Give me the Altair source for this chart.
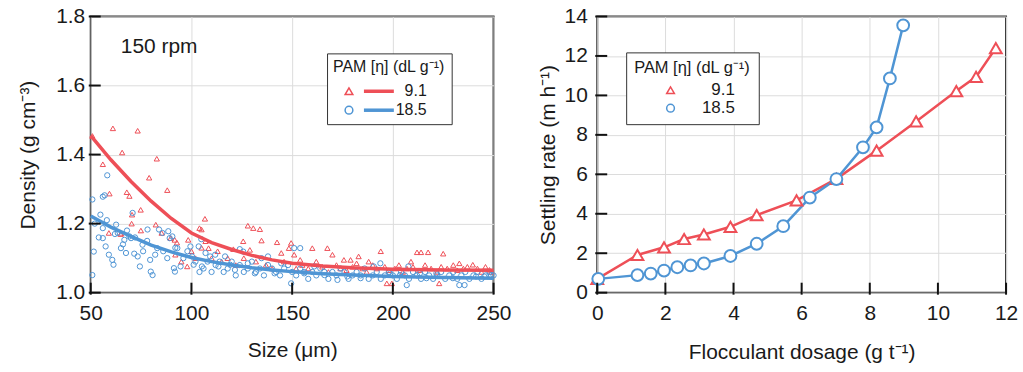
import altair as alt
import pandas as pd

RED = "#ee4f57"
BLUE = "#4f95d4"
SERIES = ["9.1", "18.5"]
FONT = "Liberation Sans"

# ---------------- left panel: density vs size (150 rpm) ----------------
red_x = [50.8, 56, 61, 65.6, 59.3, 67.9, 69.2, 73.3, 70.5, 70.3, 74.9, 79, 82.8, 88, 82.3, 65, 59,
         85.2, 89.7, 98.4, 104, 106.7, 105, 107, 108.5, 97.9, 120.8, 125.7, 128, 130.7, 134, 134.8,
         129, 142.5, 144.6, 148.4, 149.5, 151, 154, 160, 167.5, 170, 175.7, 179, 183, 188, 194, 197,
         199.5, 209, 212, 214, 217.5, 225, 233, 239.7, 248, 223, 92.8, 91.7, 74.8, 64.8,
         155, 158, 162, 165, 168, 172, 174, 177, 180, 182, 185, 187, 190, 192, 196, 198, 201, 203,
         205, 207, 210, 213, 216, 219, 222, 224, 227, 230, 232, 235, 237, 242, 244, 246, 249,
         110, 113, 115, 118, 122, 126, 132, 137, 140, 146, 152, 100, 102, 105, 95, 92]
red_y = [1.454, 1.372, 1.476, 1.406, 1.287, 1.291, 1.28, 1.469, 1.226, 1.20, 1.18, 1.333, 1.388,
         1.297, 1.197, 1.171, 1.173, 1.173, 1.158, 1.153, 1.187, 1.214, 1.183, 1.149, 1.129, 1.076,
         1.126, 1.149, 1.194, 1.187, 1.184, 1.151, 1.124, 1.146, 1.115, 1.129, 1.144, 1.11, 1.095,
         1.129, 1.129, 1.11, 1.095, 1.095, 1.105, 1.09, 1.12, 1.027, 1.027, 1.09, 1.117, 1.117,
         1.117, 1.113, 1.085, 1.081, 1.066, 1.027, 1.145, 1.153, 1.24, 1.17,
         1.08, 1.07, 1.09, 1.075, 1.06, 1.08, 1.07, 1.065, 1.075, 1.085, 1.07, 1.06, 1.08, 1.07,
         1.075, 1.065, 1.07, 1.08, 1.06, 1.07, 1.075, 1.065, 1.08, 1.07, 1.06, 1.075, 1.07, 1.08,
         1.065, 1.07, 1.075, 1.07, 1.06, 1.075, 1.06,
         1.10, 1.12, 1.09, 1.10, 1.08, 1.10, 1.09, 1.08, 1.07, 1.09, 1.07, 1.12, 1.10, 1.13, 1.09, 1.11]

blue_x = [50.8, 50.8, 51.5, 54.8, 56, 56, 58.2, 56, 56.9, 59, 57.4, 60.7, 61.3, 62.6, 63.4, 65, 66.7,
          67.5, 69.2, 70, 70.8, 71.6, 73.3, 74.4, 75.7, 78.2, 79.5, 79.8, 80.7, 83, 83.9, 85.6, 88.5,
          89.2, 90.5, 91.3, 91.8, 93, 94.6, 99.5, 100.3, 101.1, 103.6, 104.9, 105.2, 107, 109.3,
          111.8, 113.4, 116.7, 119.2, 121.6, 124, 125.7, 128, 131.5, 134.8, 138, 141.3, 144.6, 149.5,
          151, 154, 156, 161, 166, 172.5, 177.4, 184, 190.5, 193.8, 198.7, 203.6, 207.7, 206.9, 213.4,
          216.7, 221.6, 229.8, 233, 235.6, 241.3, 245.4, 248.7,
          102, 104, 106, 108, 110, 112, 114, 116, 118, 120, 122, 124, 126, 128, 130, 132, 134, 136,
          138, 140, 142, 144, 146, 148, 150, 152, 154, 156, 158, 160, 162, 164, 166, 168, 170, 172,
          174, 176, 178, 180, 182, 184, 186, 188, 190, 192, 194, 196, 198, 200, 202, 204, 206, 208,
          210, 212, 214, 216, 218, 220, 222, 224, 226, 228, 230, 232, 234, 236, 238, 240, 242, 244,
          246, 248, 250, 52, 54, 58, 62, 66, 68, 72, 76, 78, 82, 86, 88, 92, 96, 98]
blue_y = [1.27, 1.051, 1.119, 1.226, 1.187, 1.158, 1.34, 1.278, 1.282, 1.11, 1.134, 1.095, 1.081,
          1.197, 1.173, 1.129, 1.153, 1.115, 1.163, 1.158, 1.231, 1.113, 1.105, 1.076, 1.139, 1.183,
          1.095, 1.061, 1.051, 1.129, 1.183, 1.173, 1.178, 1.158, 1.163, 1.071, 1.061, 1.129, 1.076,
          1.134, 1.105, 1.081, 1.134, 1.155, 1.076, 1.115, 1.105, 1.11, 1.076, 1.105, 1.081, 1.066,
          1.126, 1.119, 1.085, 1.056, 1.1, 1.105, 1.056, 1.085, 1.027, 1.129, 1.129, 1.056, 1.076,
          1.051, 1.037, 1.047, 1.042, 1.076, 1.085, 1.056, 1.051, 1.076, 1.022, 1.056, 1.042, 1.056,
          1.042, 1.022, 1.022, 1.047, 1.047, 1.051,
          1.09, 1.06, 1.07, 1.09, 1.06, 1.08, 1.09, 1.06, 1.07, 1.09, 1.05, 1.08, 1.06, 1.07, 1.09,
          1.06, 1.07, 1.05, 1.08, 1.07, 1.06, 1.05, 1.07, 1.08, 1.06, 1.05, 1.07, 1.06, 1.04, 1.06,
          1.05, 1.07, 1.06, 1.04, 1.06, 1.05, 1.07, 1.06, 1.04, 1.05, 1.06, 1.05, 1.07, 1.04, 1.05,
          1.06, 1.04, 1.05, 1.06, 1.05, 1.04, 1.06, 1.05, 1.04, 1.06, 1.05, 1.04, 1.06, 1.05, 1.04,
          1.05, 1.06, 1.04, 1.05, 1.06, 1.04, 1.05, 1.06, 1.04, 1.05, 1.06, 1.04, 1.05, 1.06, 1.05,
          1.20, 1.16, 1.21, 1.17, 1.14, 1.18, 1.16, 1.12, 1.15, 1.11, 1.12, 1.10, 1.13, 1.10, 1.12]

fit_x = [50, 60, 70, 80, 90, 100, 110, 120, 130, 140, 150, 165, 180, 200, 225, 250]
fit_red = [1.455, 1.385, 1.322, 1.265, 1.215, 1.173, 1.145, 1.125, 1.108, 1.095, 1.085, 1.077,
           1.072, 1.068, 1.066, 1.065]
fit_blue = [1.222, 1.19, 1.163, 1.138, 1.118, 1.102, 1.09, 1.08, 1.072, 1.066, 1.061, 1.055,
            1.051, 1.047, 1.044, 1.042]

# ---------------- right panel: settling rate vs dosage ----------------
dose_red = [0, 1.18, 1.96, 2.55, 3.13, 3.91, 4.68, 5.85, 7.02, 8.2, 9.36, 10.54, 11.12, 11.7]
rate_red = [0.7, 1.91, 2.3, 2.72, 2.95, 3.34, 3.93, 4.68, 5.77, 7.2, 8.68, 10.22, 10.94, 12.4]
dose_blue = [0.03, 1.18, 1.57, 1.96, 2.35, 2.74, 3.13, 3.91, 4.68, 5.46, 6.24, 7.02, 7.8, 8.2,
             8.59, 8.98]
rate_blue = [0.7, 0.89, 0.97, 1.12, 1.29, 1.38, 1.48, 1.86, 2.48, 3.37, 4.82, 5.76, 7.37, 8.38,
             10.86, 13.55]

# tick values
size_ticks = [50, 100, 150, 200, 250]
density_ticks = [1.0, 1.2, 1.4, 1.6, 1.8]
dose_ticks = [0, 2, 4, 6, 8, 10, 12]
rate_ticks = [0, 2, 4, 6, 8, 10, 12, 14]

W_L, W_R, H = 404, 410, 277

left_pts = pd.concat([
    pd.DataFrame({"size": red_x, "density": red_y, "PAM": "9.1", "order": 0}),
    pd.DataFrame({"size": blue_x, "density": blue_y, "PAM": "18.5", "order": 1}),
])
left_fit = pd.concat([
    pd.DataFrame({"size": fit_x, "density": fit_red, "PAM": "9.1"}),
    pd.DataFrame({"size": fit_x, "density": fit_blue, "PAM": "18.5"}),
])
red_df = pd.DataFrame({"dose": dose_red, "rate": rate_red, "PAM": "9.1"})
blue_df = pd.DataFrame({"dose": dose_blue, "rate": rate_blue, "PAM": "18.5"})
right_df = pd.concat([red_df, blue_df])
note_df = pd.DataFrame({"size": [64.9], "density": [1.713], "text": ["150 rpm"]})

LEG_TITLE = "PAM [η] (dL g⁻¹)"


def cscale():
    return alt.Scale(domain=SERIES, range=[RED, BLUE])


def sscale():
    return alt.Scale(domain=SERIES, range=["triangle-up", "circle"])


def axis(title, values, fmt=None, label_pad=8, title_pad=8):
    kw = dict(title=title, values=values, ticks=False, domain=False, grid=True,
              gridColor="#dcdcdc", gridWidth=1,
              labelFont=FONT, labelFontSize=21, labelColor="#1a1a1a", labelPadding=label_pad,
              titleFont=FONT, titleFontSize=21, titleFontWeight="normal", titleColor="#1a1a1a",
              titlePadding=title_pad, labelFlush=False)
    if fmt:
        kw["format"] = fmt
    return alt.Axis(**kw)


def tick_layers(xenc, xvals, yenc, yvals):
    # short inward tick marks along the bottom and left frame edges
    xt = alt.Chart(pd.DataFrame({xenc.shorthand.split(":")[0]: xvals})).mark_tick(
        color="#111", thickness=2, size=12, orient="vertical", opacity=1).encode(
        x=xenc, y=alt.value(H - 4))
    yt = alt.Chart(pd.DataFrame({yenc.shorthand.split(":")[0]: yvals})).mark_tick(
        color="#111", thickness=2, size=12, orient="horizontal", opacity=1).encode(
        y=yenc, x=alt.value(4))
    return xt, yt


sx_l = alt.Scale(domain=[50, 250], nice=False)
sy_l = alt.Scale(domain=[1.0, 1.8], nice=False)
xl = alt.X("size:Q", scale=sx_l, axis=axis("Size (μm)", size_ticks, label_pad=10, title_pad=16))
yl = alt.Y("density:Q", scale=sy_l,
           axis=axis("Density (g cm⁻³)", density_ticks, ".1f", label_pad=6, title_pad=17))

pts_left = alt.Chart(left_pts).mark_point(filled=False, size=28, strokeWidth=1, opacity=1).encode(
    x=xl, y=yl,
    color=alt.Color("PAM:N", scale=cscale(), legend=alt.Legend(
        title=LEG_TITLE, orient="none", legendX=237, legendY=37, strokeColor="#333",
        padding=6, fillColor="white",
        titleFont=FONT, titleFontSize=16, titleFontWeight="normal", titleColor="#1a1a1a",
        titlePadding=8, symbolOffset=8, symbolSize=60, symbolStrokeWidth=1.5,
        labelExpr="''", labelFontSize=16, labelOffset=0, rowPadding=3)),
    shape=alt.Shape("PAM:N", scale=sscale(), legend=alt.Legend(
        title=LEG_TITLE, orient="none", legendX=237, legendY=37)),
    order=alt.Order("order:Q"),
)

fit_lines = alt.Chart(left_fit).mark_line(strokeWidth=3.5).encode(
    x=xl, y=yl,
    stroke=alt.Stroke("PAM:N", scale=cscale(), legend=alt.Legend(
        title=None, orient="top-right", offset=67, padding=0, symbolType="M-1,0H5",
        symbolSize=100, symbolStrokeWidth=3.5, labelFont=FONT, labelFontSize=16,
        labelColor="#1a1a1a", labelAlign="right", labelOffset=50, rowPadding=3)),
)

note = alt.Chart(note_df).mark_text(align="left", baseline="middle", font=FONT,
                                    fontSize=21, color="#1a1a1a").encode(
    x=xl, y=yl, text="text:N")

xt_l, yt_l = tick_layers(xl, size_ticks, yl, density_ticks)

left = alt.layer(pts_left, fit_lines, note, xt_l, yt_l).properties(width=W_L, height=H)

sx_r = alt.Scale(domain=[0, 12], nice=False)
sy_r = alt.Scale(domain=[0, 14], nice=False)
xr = alt.X("dose:Q", scale=sx_r,
           axis=axis("Flocculant dosage (g t⁻¹)", dose_ticks, label_pad=10, title_pad=18))
yr = alt.Y("rate:Q", scale=sy_r,
           axis=axis("Settling rate (m h⁻¹)", rate_ticks, label_pad=10, title_pad=6))

line_red = alt.Chart(red_df).mark_line(strokeWidth=2.5, color=RED).encode(x=xr, y=yr)
line_blue = alt.Chart(blue_df).mark_line(strokeWidth=2.5, color=BLUE).encode(x=xr, y=yr)

pts_right = alt.Chart(right_df).mark_point(filled=False, fill="white", fillOpacity=1, size=140,
                                           strokeWidth=2, opacity=1).encode(
    x=xr, y=yr,
    color=alt.Color("PAM:N", scale=cscale(), legend=alt.Legend(
        title=LEG_TITLE, orient="none", legendX=29, legendY=36, strokeColor="#333",
        padding=8, fillColor="white",
        titleFont=FONT, titleFontSize=16.5, titleFontWeight="normal", titleColor="#1a1a1a",
        titlePadding=5, symbolOffset=28, symbolSize=60, symbolStrokeWidth=1.5,
        labelFont=FONT, labelFontSize=17, labelColor="#1a1a1a", labelAlign="right",
        labelOffset=56, rowPadding=0)),
    shape=alt.Shape("PAM:N", scale=sscale(), legend=alt.Legend(
        title=LEG_TITLE, orient="none", legendX=29, legendY=36)),
)

xt_r, yt_r = tick_layers(xr, dose_ticks, yr, rate_ticks)

right = alt.layer(line_red, line_blue, pts_right, xt_r, yt_r).properties(width=W_R, height=H)

chart = alt.hconcat(left, right, spacing=23).resolve_scale(
    color="independent", shape="independent", stroke="independent"
).resolve_legend(
    color="independent", shape="independent", stroke="independent"
).properties(
    padding={"left": 16, "top": 4, "right": 4, "bottom": 2}
).configure_view(stroke="#333", strokeWidth=2)

chart.save("out.html", embed_options={"renderer": "svg", "actions": False})
